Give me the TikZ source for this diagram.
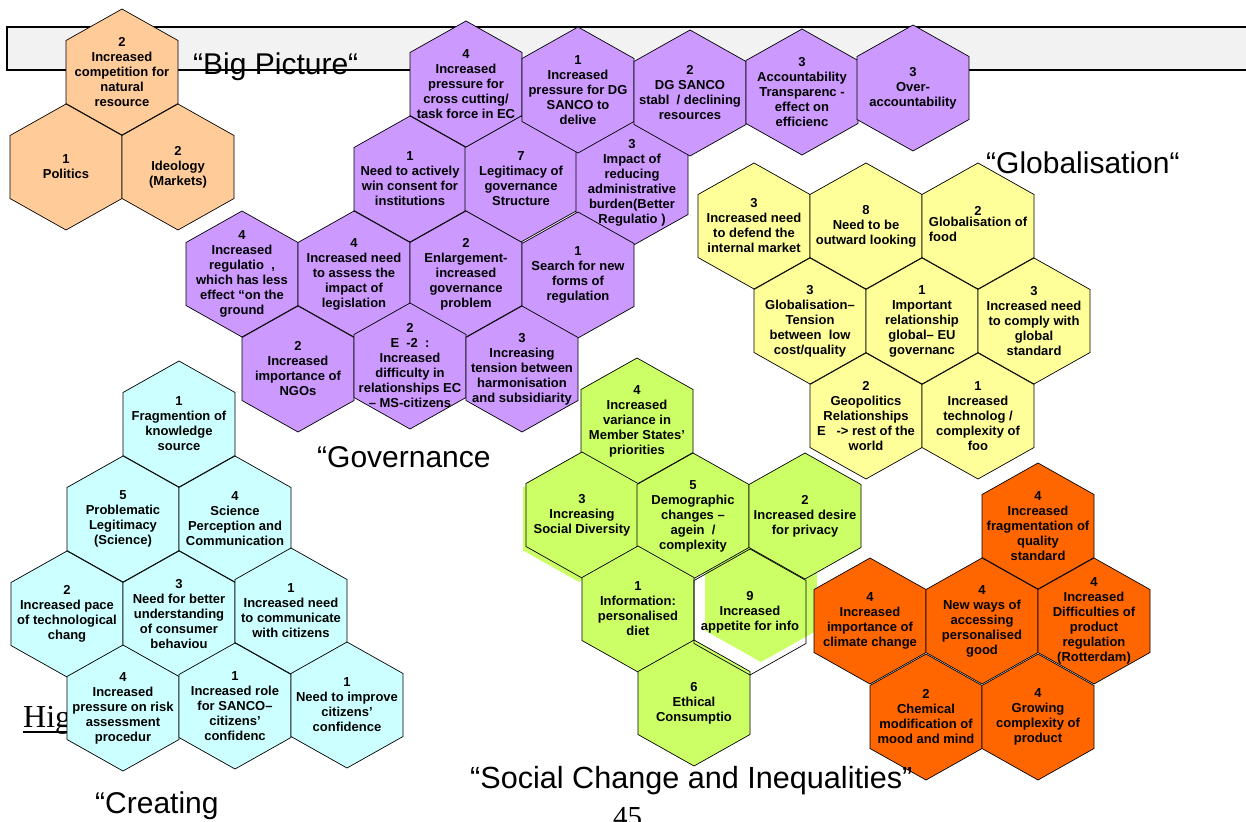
\documentclass[tikz,border=0pt]{standalone}
\usepackage{fontspec}
\setmainfont{Liberation Sans}
\newfontfamily\seriffont{Liberation Serif}
\definecolor{cpeach}{HTML}{FFCC99}
\definecolor{cpurple}{HTML}{CC99FF}
\definecolor{cyellow}{HTML}{FFFF99}
\definecolor{ccyan}{HTML}{CCFFFF}
\definecolor{cgreen}{HTML}{CCFF66}
\definecolor{corange}{HTML}{FF6600}
\definecolor{cbar}{HTML}{F2F2F2}
\tikzset{
  hexline/.style={draw=black, line width=0.7pt, line join=miter},
  hextext/.style={font=\bfseries\fontsize{13}{15}\selectfont, align=center, inner sep=0pt, text=black},
  titletext/.style={font=\fontsize{30}{36}\selectfont, anchor=base west, inner sep=0pt},
}
\newcommand\hexat[3]{\path[#1] ({#2},{#3-63}) -- ({#2+56},{#3-31.5}) -- ({#2+56},{#3+31.5}) -- ({#2},{#3+63}) -- ({#2-56},{#3+31.5}) -- ({#2-56},{#3-31.5}) -- cycle;}
\newcommand\hexa[5]{\hexat{hexline,fill=#4}{#2}{#3}\node[hextext] (#1) at (#2,#3) {#5};}
\begin{document}
\begin{tikzpicture}[x=1pt,y=-1pt]
\useasboundingbox (0,0) rectangle (1246,821);
\fill[white] (0,0) rectangle (1246,821);
% title bar
\filldraw[fill=cbar, draw=black, line width=1.3pt] (7,27) rectangle (1262,70);
% hidden heading
\node[font=\seriffont\fontsize{32}{38}\selectfont, anchor=base west, inner sep=0pt] (hig) at (23,727) {Hig};
\draw[line width=1.5pt] ([yshift=-5pt]hig.base west) -- ([yshift=-5pt]hig.base east);
% Big picture (peach)
\hexa{o1}{122}{72}{cpeach}{2\\Increased\\competition for\\natural\\resource}
\hexa{o2}{66}{167}{cpeach}{1\\Politics}
\hexa{o3}{178}{167}{cpeach}{2\\Ideology\\(Markets)}
% Governance (purple)
\hexa{p6}{410}{179}{cpurple}{1\\Need to actively\\win consent for\\institutions}
\hexa{p7}{521}{179}{cpurple}{7\\Legitimacy of\\governance\\Structure}
\hexa{p8}{632}{183}{cpurple}{3\\Impact of\\reducing\\administrative\\burden(Better\\Regulatio )}
\hexa{p1}{466}{84}{cpurple}{4\\Increased\\pressure for\\cross cutting/\\task force in EC}
\hexa{p2}{578}{90}{cpurple}{1\\Increased\\pressure for DG\\SANCO to\\delive}
\hexa{p3}{690}{93}{cpurple}{2\\DG SANCO\\stabl\ \ / declining\\resources}
\hexa{p4}{802}{92}{cpurple}{3\\Accountability\\Transparenc -\\effect on\\efficienc}
\hexa{p5}{913}{88}{cpurple}{3\\Over-\\accountability}
\hexa{p9}{242}{274}{cpurple}{4\\Increased\\regulatio\ \ ,\\which has less\\effect “on the\\ground}
\hexa{p10}{354}{274}{cpurple}{4\\Increased need\\to assess the\\impact of\\legislation}
\hexa{p11}{466}{274}{cpurple}{2\\Enlargement-\\increased\\governance\\problem}
\hexa{p12}{578}{275}{cpurple}{1\\Search for new\\forms of\\regulation}
\hexa{p13}{298}{369}{cpurple}{2\\Increased\\importance of\\NGOs}
\hexa{p14}{410}{366}{cpurple}{2\\E\ \ -2\ \ :\\Increased\\difficulty in\\relationships EC\\– MS-citizens}
\hexa{p15}{522}{369}{cpurple}{3\\Increasing\\tension between\\harmonisation\\and subsidiarity}
% Globalisation (yellow)
\hexa{y1}{754}{226}{cyellow}{3\\Increased need\\to defend the\\internal market}
\hexa{y2}{866}{226}{cyellow}{8\\Need to be\\outward looking}
\hexa{y3}{978}{226}{cyellow}{2\\\begin{tabular}{@{}l@{}}Globalisation of\\food\end{tabular}}
\hexa{y4}{810}{321}{cyellow}{3\\Globalisation–\\Tension\\between\ \ low\\cost/quality}
\hexa{y5}{922}{321}{cyellow}{1\\Important\\relationship\\global– EU\\governanc}
\hexa{y6}{1034}{321}{cyellow}{3\\Increased need\\to comply with\\global\\standard}
\hexa{y7}{866}{416}{cyellow}{2\\Geopolitics\\Relationships\\E\ \ \ -> rest of the\\world}
\hexa{y8}{978}{416}{cyellow}{1\\Increased\\technolog /\\complexity of\\foo}
% Creating (cyan)
\hexa{c1}{179}{424}{ccyan}{1\\Fragmention of\\knowledge\\source}
\hexa{c2}{123}{519}{ccyan}{5\\Problematic\\Legitimacy\\(Science)}
\hexa{c3}{235}{519}{ccyan}{4\\Science\\Perception and\\Communication}
\hexa{c4}{67}{614}{ccyan}{2\\Increased pace\\of technological\\chang}
\hexa{c5}{179}{614}{ccyan}{3\\Need for better\\understanding\\of consumer\\behaviou}
\hexa{c6}{291}{611}{ccyan}{1\\Increased need\\to communicate\\with citizens}
\hexa{c7}{123}{708}{ccyan}{4\\Increased\\pressure on risk\\assessment\\procedur}
\hexa{c8}{235}{706}{ccyan}{1\\Increased role\\for SANCO–\\citizens’\\confidenc}
\hexa{c9}{347}{705}{ccyan}{1\\Need to improve\\citizens’\\confidence}
% Social change (green)
\hexat{fill=cgreen}{761}{599}
\hexat{fill=cgreen}{579}{519}
\hexa{g1}{637}{421}{cgreen}{4\\Increased\\variance in\\Member States’\\priorities}
\hexa{g2}{582}{515}{cgreen}{3\\Increasing\\Social Diversity}
\hexa{g3}{693}{516}{cgreen}{5\\Demographic\\changes –\\agein\ \ /\\complexity}
\hexa{g4}{805}{516}{cgreen}{2\\Increased desire\\for privacy}
\hexa{g5}{638}{609}{cgreen}{1\\Information:\\personalised\\diet}
\hexa{g7}{694}{703}{cgreen}{6\\Ethical\\Consumptio}
\hexat{hexline}{750}{612}
\node[hextext] (g6) at (750,612) {9\\Increased\\appetite for info};
% orange
\hexa{d1}{1038}{526}{corange}{4\\Increased\\fragmentation of\\quality\\standard}
\hexa{d2}{870}{621}{corange}{4\\Increased\\importance of\\climate change}
\hexa{d3}{982}{621}{corange}{4\\New ways of\\accessing\\personalised\\good}
\hexa{d4}{1094}{621}{corange}{4\\Increased\\Difficulties of\\product\\regulation\\(Rotterdam)}
\hexa{d5}{926}{717}{corange}{2\\Chemical\\modification of\\mood and mind}
\hexa{d6}{1038}{717}{corange}{4\\Growing\\complexity of\\product}
% titles
\node[titletext] (tbig) at (193,75) {“Big Picture“};
\node[titletext] (tglob) at (986,173) {“Globalisation“};
\node[titletext] (tgov) at (317,467) {“Governance};
\node[titletext] (tcre) at (95,813) {“Creating};
\node[titletext, font=\fontsize{30.6}{36}\selectfont] (tsoc) at (470,788) {“Social Change and Inequalities”};
\node[font=\seriffont\fontsize{29}{35}\selectfont, anchor=base west, inner sep=0pt] (tpage) at (613,826) {45};
\end{tikzpicture}
\end{document}
